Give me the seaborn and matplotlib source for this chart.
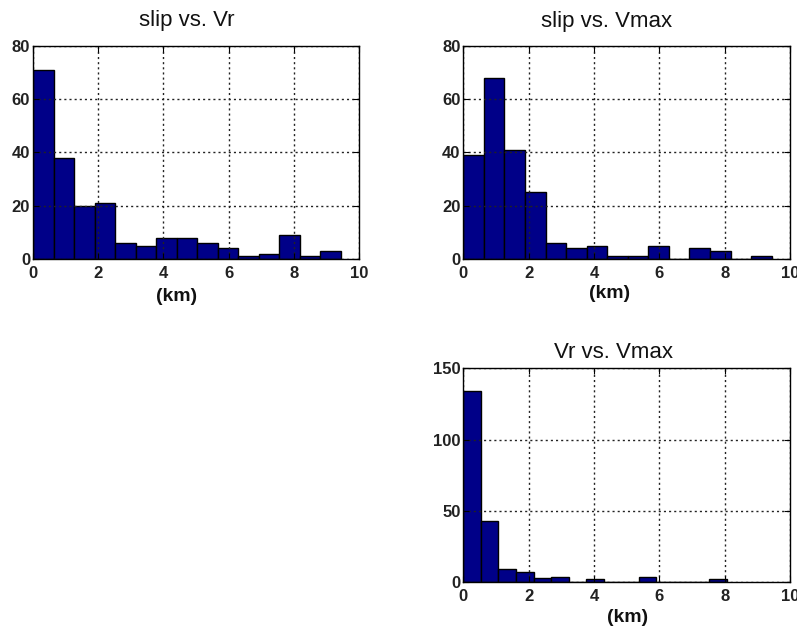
import numpy as np
import pandas as pd
import matplotlib
matplotlib.use("Agg")
import matplotlib.pyplot as plt
import seaborn as sns

# Histogram counts per bin (15 equal bins per panel)
titles = ["slip vs. Vr", "slip vs. Vmax", "Vr vs. Vmax"]
counts_slip_vr = [71, 38, 20, 21, 6, 5, 8, 8, 6, 4, 1, 2, 9, 1, 3]
counts_slip_vmax = [39, 68, 41, 25, 6, 4, 5, 1, 1, 5, 0, 4, 3, 0, 1]
counts_vr_vmax = [134, 43, 9, 7, 3, 4, 0, 2, 0, 0, 4, 0, 0, 0, 2]
bin_ranges = [(0.0, 9.44), (0.0, 9.44), (0.0, 8.06)]
y_ticks = [[0, 20, 40, 60, 80], [0, 20, 40, 60, 80], [0, 50, 100, 150]]
x_ticks = [0, 2, 4, 6, 8, 10]
x_label = "(km)"

sns.set_theme(style="white")
plt.rcParams["font.family"] = ["Liberation Sans", "DejaVu Sans"]

W, H = 797, 635
fig = plt.figure(figsize=(W / 100, H / 100), dpi=100)

# axes boxes in pixels: left, top, right, bottom
boxes = [
    (33, 45.7, 359, 259),
    (463.3, 45.7, 790, 259),
    (463.3, 368.3, 790, 582.3),
]
# title (centre x, baseline y) and x-label centre (x, y) in pixels
title_pos = [(187, 26), (607, 26.7), (614, 358.3)]
xlabel_pos = [(177, 297), (610, 293), (628, 617)]

bar_color = "#000088"
all_counts = [counts_slip_vr, counts_slip_vmax, counts_vr_vmax]

for box, title, counts, rng, yt, tp, xp in zip(boxes, titles, all_counts, bin_ranges,
                                               y_ticks, title_pos, xlabel_pos):
    l, t, r, b = box
    ax = fig.add_axes([l / W, 1 - b / H, (r - l) / W, (b - t) / H])
    edges = np.linspace(rng[0], rng[1], len(counts) + 1)
    centers = (edges[:-1] + edges[1:]) / 2
    df = pd.DataFrame({"x": centers, "n": counts})
    sns.histplot(data=df, x="x", weights="n", bins=len(counts), binrange=rng, ax=ax,
                 color=bar_color, alpha=1.0, edgecolor="black", linewidth=1.0)
    ax.set_xlim(0, 10)
    ax.set_ylim(yt[0], yt[-1])
    ax.set_xticks(x_ticks)
    ax.set_yticks(yt)
    ax.grid(True, color="#222222", linestyle=(0, (1.5, 2.2)), linewidth=1.0)
    ax.set_axisbelow(False)
    for p in ax.patches:
        p.set_zorder(2)
    ax.tick_params(direction="in", length=4, width=0.8, colors="black",
                   labelsize=12, top=True, right=True, bottom=True, left=True)
    ax.tick_params(axis="x", pad=5)
    ax.tick_params(axis="y", pad=2)
    for lbl in ax.get_xticklabels() + ax.get_yticklabels():
        lbl.set_fontweight("bold")
        lbl.set_color("#222222")
    for s in ax.spines.values():
        s.set_visible(True)
        s.set_color("black")
        s.set_linewidth(1.0)
        s.set_zorder(3)
    ax.set_ylabel("")
    ax.set_xlabel("")
    fig.text(tp[0] / W, 1 - tp[1] / H, title, fontsize=16, ha="center",
             va="baseline", color="#111111")
    fig.text(xp[0] / W, 1 - xp[1] / H, x_label, fontsize=14, fontweight="bold",
             ha="center", va="center", color="#111111")

fig.savefig("out.png", dpi=100, facecolor="white")
